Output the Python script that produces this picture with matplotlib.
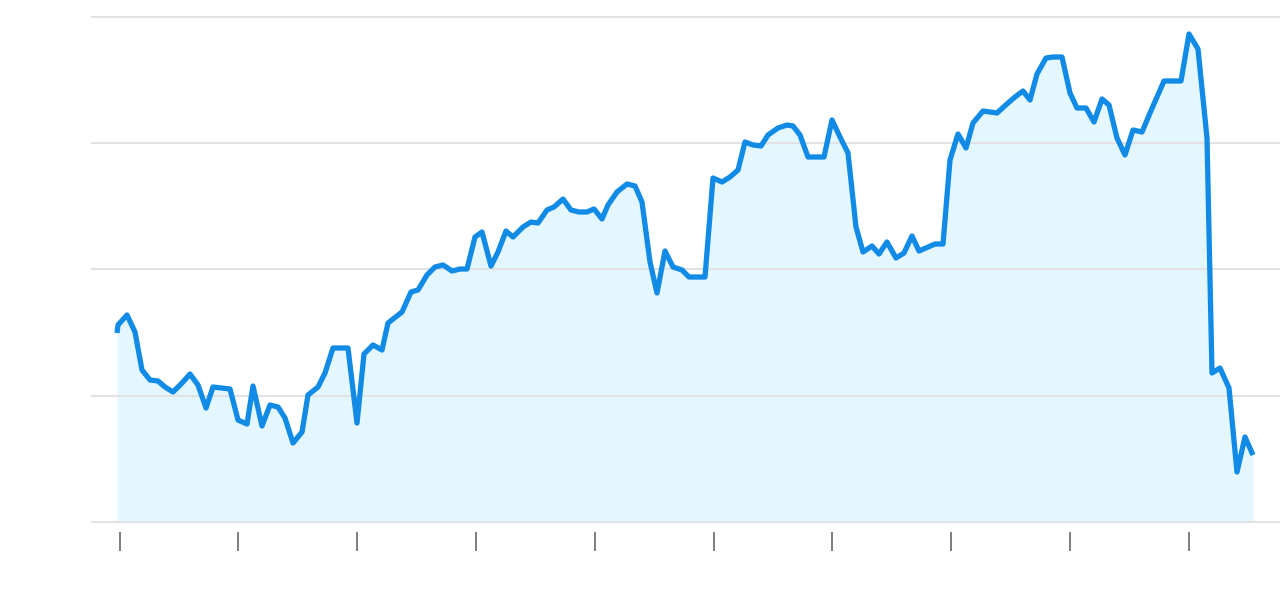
import matplotlib
matplotlib.use("Agg")
import matplotlib.pyplot as plt

# x positions (time units) and values
x_vals = [0, 1, 10, 18, 25, 33, 41, 48, 56, 65, 73, 81, 89, 96, 105, 113, 121, 130, 136, 145,
          153, 161, 168, 176, 185, 191, 201, 208, 216, 231, 240, 247, 256, 265, 271, 285, 294, 301, 310, 318,
          326, 335, 343, 350, 358, 365, 374, 381, 389, 396, 406, 414, 421, 430, 437, 446, 454, 462, 470, 477,
          485, 491, 500, 510, 518, 525, 533, 540, 548, 556, 565, 572, 580, 588, 596, 605, 613, 621, 628, 636,
          644, 651, 661, 670, 676, 683, 691, 700, 707, 715, 723, 731, 739, 746, 755, 762, 770, 779, 787, 795,
          802, 811, 818, 826, 833, 841, 849, 856, 866, 880, 891, 898, 906, 913, 920, 929, 936, 945, 953, 960,
          969, 977, 985, 992, 1000, 1008, 1016, 1025, 1033, 1047, 1064, 1072, 1081, 1090, 1095, 1103, 1112, 1120,
          1128, 1136]
y_vals = [189, 197, 207, 190, 152, 142, 141, 135, 130, 139, 148, 137, 114, 135, 134, 133, 102, 98, 136, 96,
          117, 115, 104, 79, 90, 127, 135, 149, 174, 174, 99, 168, 177, 172, 199, 210, 230, 232, 247, 255,
          257, 251, 253, 253, 285, 290, 256, 270, 291, 285, 295, 300, 299, 312, 315, 323, 312, 310, 310, 313,
          303, 317, 330, 338, 336, 320, 260, 229, 271, 255, 252, 245, 245, 245, 344, 340, 345, 352, 380, 377,
          376, 387, 394, 397, 396, 387, 365, 365, 365, 402, 385, 369, 295, 270, 276, 268, 280, 264, 269, 286,
          271, 275, 278, 278, 362, 388, 374, 399, 411, 409, 419, 425, 431, 422, 448, 464, 465, 465, 429, 414,
          414, 400, 423, 417, 384, 367, 392, 390, 409, 441, 441, 488, 473, 384, 149, 154, 134, 50, 85,
          67]
assert len(x_vals) == len(y_vals)

tick_positions = [3, 121, 240, 359, 478, 597, 715, 834, 953, 1072]
grid_levels = [0, 126, 253, 379, 505]

LINE = "#118be6"
FILL = "#e4f7fe"
GRID = "#e2e1e4"

fig = plt.figure(figsize=(12.8, 5.96), dpi=100)
ax = fig.add_axes([92 / 1280, 74 / 596, 1188 / 1280, 505 / 596])
ax.set_xlim(-25, 1163)
ax.set_ylim(0, 505)

ax.fill_between(x_vals, y_vals, 0, color=FILL, lw=0, zorder=1)
for g in grid_levels:
    ax.axhline(g, color=GRID, lw=1.5, zorder=2, clip_on=False)
ax.plot(x_vals, y_vals, color=LINE, lw=3.8, solid_joinstyle="round",
        solid_capstyle="butt", zorder=3, clip_on=False)

for s in ["top", "right", "left"]:
    ax.spines[s].set_visible(False)
ax.spines["bottom"].set_position(("outward", 7))
ax.spines["bottom"].set_color("none")
ax.set_yticks([])
ax.set_xticks(tick_positions)
ax.set_xticklabels([])
ax.tick_params(axis="x", length=14, width=1.4, color="#7d7d7d", direction="out")

fig.savefig("out.png", dpi=100)
